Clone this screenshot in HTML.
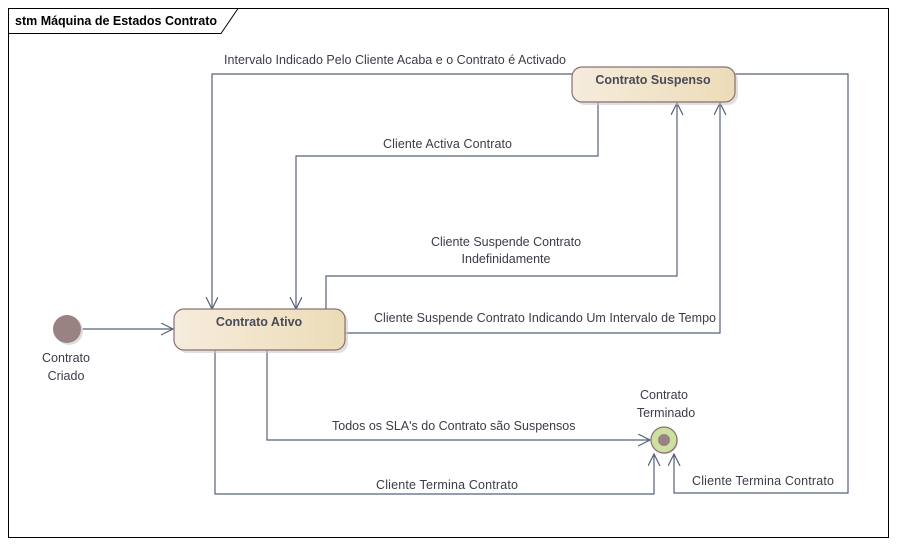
<!DOCTYPE html>
<html><head><meta charset="utf-8"><style>
body{margin:0;background:#fff;}
svg text{font-family:"Liberation Sans",sans-serif;font-size:12.5px;fill:#3c3c48;}
</style></head><body>
<svg width="897" height="546" xmlns="http://www.w3.org/2000/svg">
<defs>
<linearGradient id="g" x1="0" x2="1" y1="0" y2="0"><stop offset="0" stop-color="#f6ecdc"/><stop offset="1" stop-color="#ecdcb8"/></linearGradient>
<marker id="a" markerWidth="14" markerHeight="14" refX="12" refY="6" orient="auto" markerUnits="userSpaceOnUse"><path d="M0,0 L12,6 L0,12" fill="none" stroke="#56607a" stroke-width="1.2"/></marker>
</defs>
<rect x="8.5" y="8.5" width="880" height="529" fill="#fff" stroke="#000"/>
<path d="M8.5,33.5 H221 L238,8.5" fill="none" stroke="#000"/>
<text x="15" y="25" style="font-weight:bold;font-size:12.5px;fill:#000" textLength="202">stm Máquina de Estados Contrato</text>
<g fill="none" stroke="#56607a" stroke-width="1.2">
<path d="M572,74 H212 V309" marker-end="url(#a)"/>
<path d="M598,102 V156 H296 V309" marker-end="url(#a)"/>
<path d="M326,309 V276 H677 V103" marker-end="url(#a)"/>
<path d="M345,333 H720 V103" marker-end="url(#a)"/>
<path d="M81,329 H173" marker-end="url(#a)"/>
<path d="M267,350 V440 H650" marker-end="url(#a)"/>
<path d="M215,350 V494 H654 V454" marker-end="url(#a)"/>
<path d="M735,74 H848 V493 H674 V454" marker-end="url(#a)"/>
</g>
<rect x="575" y="70" width="163" height="35" rx="10" fill="#ccc" opacity="0.6"/>
<rect x="572" y="67" width="163" height="35" rx="10" fill="url(#g)" stroke="#8a7070" stroke-width="1.2"/>
<text x="653" y="84" text-anchor="middle" style="font-weight:bold;fill:#4a4a58">Contrato Suspenso</text>
<rect x="177" y="312" width="171" height="41" rx="10" fill="#ccc" opacity="0.6"/>
<rect x="174" y="309" width="171" height="41" rx="10" fill="url(#g)" stroke="#8a7070" stroke-width="1.2"/>
<text x="259" y="326" text-anchor="middle" style="font-weight:bold;fill:#4a4a58">Contrato Ativo</text>
<circle cx="69" cy="331" r="14" fill="#ddd"/>
<circle cx="67" cy="329" r="14" fill="#9a8282"/>
<circle cx="665" cy="441" r="13" fill="#ccc"/>
<circle cx="664" cy="440" r="13" fill="#cde0a0" stroke="#8a7070" stroke-width="1.2"/>
<circle cx="664" cy="440" r="6" fill="#9a8282"/>
<text x="66" y="362" text-anchor="middle">Contrato</text>
<text x="66" y="380" text-anchor="middle">Criado</text>
<text x="664" y="399" text-anchor="middle">Contrato</text>
<text x="666" y="417" text-anchor="middle">Terminado</text>
<text x="224" y="64" textLength="342">Intervalo Indicado Pelo Cliente Acaba e o Contrato é Activado</text>
<text x="383" y="148" textLength="129">Cliente Activa Contrato</text>
<text x="506" y="246" text-anchor="middle">Cliente Suspende Contrato</text>
<text x="506" y="263" text-anchor="middle">Indefinidamente</text>
<text x="374" y="322" textLength="342">Cliente Suspende Contrato Indicando Um Intervalo de Tempo</text>
<text x="332" y="430">Todos os SLA's do Contrato são Suspensos</text>
<text x="376" y="489" textLength="142">Cliente Termina Contrato</text>
<text x="692" y="485" textLength="142">Cliente Termina Contrato</text>
</svg>
</body></html>
